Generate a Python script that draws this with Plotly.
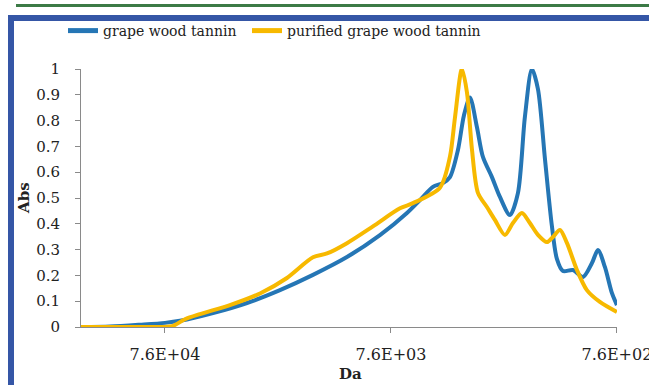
import plotly.graph_objects as go

# Molecular weight (Da) and absorbance
da_grape = [178900, 133100, 98040, 76000, 65220, 46600, 32960, 23550, 16820, 11900,
            8502, 6457, 5655, 4955, 4474, 4166, 3840, 3613, 3398, 3165, 2977, 2716,
            2503, 2261, 2084, 1941, 1807, 1699, 1582, 1474, 1401, 1317, 1190, 1074,
            980, 922, 859, 800, 760]
abs_grape = [0.0, 0.002, 0.009, 0.016, 0.024, 0.054, 0.093, 0.143, 0.202, 0.271,
             0.356, 0.442, 0.492, 0.543, 0.558, 0.581, 0.686, 0.82, 0.89, 0.775, 0.659, 0.581,
             0.504, 0.434, 0.519, 0.814, 1.0, 0.922, 0.651, 0.391, 0.264, 0.217, 0.221, 0.194,
             0.248, 0.298, 0.233, 0.132, 0.085]

da_purified = [178900, 88550, 70750, 61990, 53180, 39210, 28870, 21930, 16820, 14590,
               11900, 9130, 6934, 6074, 4613, 4166, 3960, 3687, 3504, 3330, 3132, 2858,
               2634, 2379, 2193, 2001, 1845, 1699, 1550, 1459, 1358, 1265, 1142, 1032,
               904, 760]
abs_purified = [0.0, 0.0, 0.003, 0.03, 0.05, 0.085, 0.13, 0.19, 0.27, 0.285,
                0.325, 0.39, 0.46, 0.48, 0.54, 0.66, 0.81, 1.0, 0.91, 0.69, 0.52, 0.465,
                0.415, 0.357, 0.403, 0.442, 0.403, 0.357, 0.329, 0.349, 0.376, 0.326, 0.221, 0.143,
                0.097, 0.058]

x_tickvals = [76000, 7600, 760]
x_ticktext = ["7.6E+04", "7.6E+03", "7.6E+02"]
y_tickvals = [0, 0.1, 0.2, 0.3, 0.4, 0.5, 0.6, 0.7, 0.8, 0.9, 1]
y_ticktext = ["0", "0.1", "0.2", "0.3", "0.4", "0.5", "0.6", "0.7", "0.8", "0.9", "1"]

BLUE = "#2576b5"
GOLD = "#f7b900"
AXIS = "#8a8a8a"
FONT = "DejaVu Serif"
TXT = "#222222"

fig = go.Figure()
fig.add_trace(go.Scatter(x=da_grape, y=abs_grape, mode="lines", name="grape wood tannin",
                         legend="legend",
                         line=dict(color=BLUE, width=4, shape="spline", smoothing=0.8)))
fig.add_trace(go.Scatter(x=da_purified, y=abs_purified, mode="lines", name="purified grape wood tannin",
                         legend="legend2",
                         line=dict(color=GOLD, width=4, shape="spline", smoothing=0.8)))

W, H = 649, 385
L, R, T, B = 81, 617, 69, 327
pw, ph = R - L, B - T
def px(xp):
    return (xp - L) / pw
def py(yp):
    return (B - yp) / ph

leg_common = dict(orientation="h", yanchor="middle", y=py(31), xanchor="left",
                  font=dict(family=FONT, size=14, color=TXT),
                  bgcolor="rgba(0,0,0,0)", itemsizing="constant")

fig.update_layout(
    width=W, height=H, autosize=False,
    margin=dict(l=L, r=W - R, t=T, b=H - B, pad=0, autoexpand=False),
    paper_bgcolor="white", plot_bgcolor="white",
    font=dict(family=FONT, size=15, color=TXT),
    showlegend=True,
    legend=dict(x=px(63), **leg_common),
    legend2=dict(x=px(247), **leg_common),
    xaxis=dict(type="log", range=[5.2525, 2.8804], tickvals=x_tickvals, ticktext=x_ticktext,
               showgrid=False, zeroline=False, showline=True, linecolor=AXIS, linewidth=1,
               ticks="outside", ticklen=5, tickcolor=AXIS, tickwidth=1,
               ticklabeloverflow="allow", automargin=False,
               tickfont=dict(family=FONT, size=16, color=TXT), ticklabelstandoff=8),
    yaxis=dict(range=[0, 1], tickvals=y_tickvals, ticktext=y_ticktext,
               showgrid=False, zeroline=False, showline=True, linecolor=AXIS, linewidth=1,
               ticks="outside", ticklen=5, tickcolor=AXIS, tickwidth=1, automargin=False,
               tickfont=dict(family=FONT, size=15, color=TXT), ticklabelstandoff=12),
    annotations=[
        dict(text="<b>Abs</b>", xref="paper", yref="paper", x=px(24), y=0.5, textangle=-90,
             showarrow=False, font=dict(family=FONT, size=15, color=TXT),
             xanchor="center", yanchor="middle"),
        dict(text="<b>Da</b>", xref="paper", yref="paper", x=px(350), y=py(385),
             showarrow=False, font=dict(family=FONT, size=15, color=TXT),
             xanchor="center", yanchor="bottom"),
    ],
    shapes=[
        dict(type="line", xref="paper", yref="paper", x0=px(16), x1=px(660), y0=py(5.5), y1=py(5.5),
             line=dict(color="#3c7a46", width=3), layer="above"),
        dict(type="path", xref="paper", yref="paper",
             path=f"M {px(11)} {py(400)} L {px(11)} {py(18)} L {px(660)} {py(18)}",
             line=dict(color="#3556a6", width=6), layer="above"),
    ],
)

fig.write_html("out.html", config={"displayModeBar": False},
               post_script="document.body.style.margin='0';")
